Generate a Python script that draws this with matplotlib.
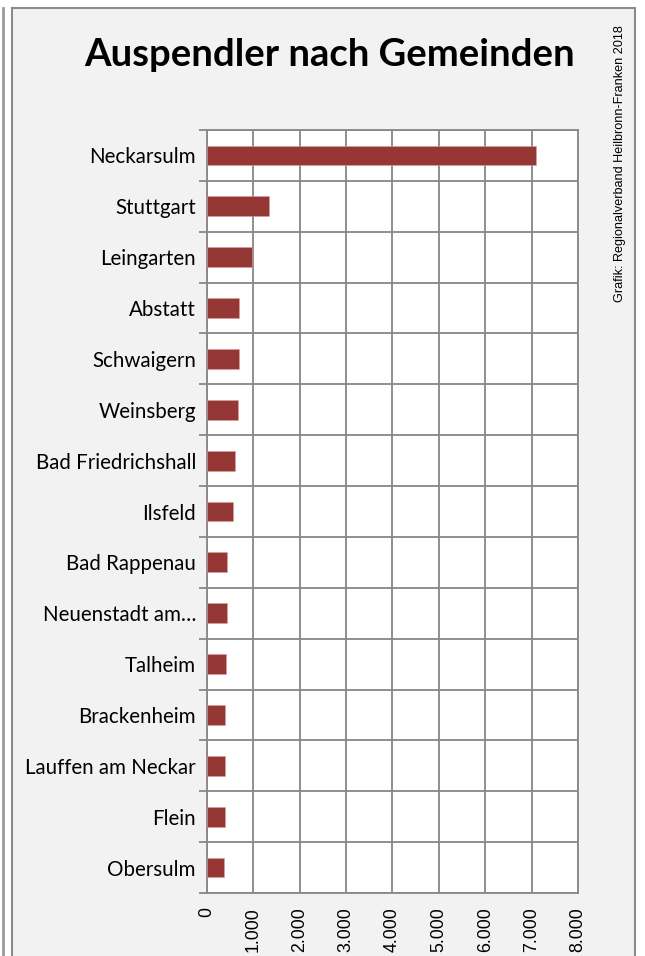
import matplotlib
matplotlib.use("Agg")
import matplotlib.pyplot as plt
from matplotlib.patches import Rectangle
from matplotlib.lines import Line2D
from matplotlib.ticker import FuncFormatter, MultipleLocator

# Daten
gemeinden = ["Neckarsulm", "Stuttgart", "Leingarten", "Abstatt", "Schwaigern",
             "Weinsberg", "Bad Friedrichshall", "Ilsfeld", "Bad Rappenau",
             "Neuenstadt am…", "Talheim", "Brackenheim", "Lauffen am Neckar",
             "Flein", "Obersulm"]
auspendler = [7090, 1340, 980, 700, 690, 670, 610, 550, 440, 430, 420, 390, 380, 380, 360]

titel = "Auspendler nach Gemeinden"
quelle = "Grafik: Regionalverband Heilbronn-Franken 2018"

W, H = 645, 956
fig = plt.figure(figsize=(W / 100, H / 100), dpi=100)
fig.patch.set_facecolor("white")

def px(x, y):
    return x / W, 1 - y / H

# Diagrammbereich mit Rahmen
x0, y0 = px(12, 8)
x1, _ = px(635, 8)
fig.patches.append(Rectangle((x0, -0.01), x1 - x0, y0 + 0.01, transform=fig.transFigure,
                             facecolor="#f2f2f2", edgecolor="#8c8c8c", linewidth=1.5, zorder=-10))
fig.lines.append(Line2D([3 / W, 3 / W], [0, 1 - 8 / H], transform=fig.transFigure,
                        color="#9a9a9a", linewidth=2, zorder=-10))

left, bottom = px(207, 893)
ax = fig.add_axes([left, bottom, 371 / W, 763 / H])
ax.set_facecolor("white")

pos = list(range(len(gemeinden)))
ax.barh(pos, auspendler, height=0.39, color="#953735", edgecolor="#d9a0a0",
        linewidth=0.4, zorder=3)

ax.set_xlim(0, 8000)
ax.set_ylim(len(gemeinden) - 0.5, -0.5)
ax.xaxis.set_major_locator(MultipleLocator(1000))
ax.xaxis.set_major_formatter(FuncFormatter(lambda v, p: f"{int(v):,}".replace(",", ".")))

ax.set_yticks(pos)
ax.set_yticklabels(gemeinden, fontsize=14.8, family="Lato")
ax.set_yticks([p - 0.5 for p in pos] + [len(pos) - 0.5], minor=True)

grid_col = "#878787"
ax.grid(axis="x", which="major", color=grid_col, linewidth=1.3, zorder=1)
ax.grid(axis="y", which="minor", color=grid_col, linewidth=1.3, zorder=1)
ax.tick_params(axis="y", which="major", length=0, pad=8)
ax.tick_params(axis="y", which="minor", length=6, width=1.3, color=grid_col)
ax.tick_params(axis="x", length=0, pad=10)
for lab in ax.get_xticklabels():
    lab.set_rotation(90)
    lab.set_family("Liberation Sans")
    lab.set_fontsize(12.8)
    lab.set_va("top")
for s in ax.spines.values():
    s.set_color(grid_col)
    s.set_linewidth(1.3)

tx, ty = px(330, 55)
fig.text(tx, ty, titel, ha="center", va="center", fontsize=27.5,
         fontweight="bold", family="Lato")

qx, qy = px(620, 25)
fig.text(qx, qy, quelle, rotation=90, ha="center", va="top", fontsize=9.1,
         family=["Liberation Sans Narrow", "Liberation Sans"])

fig.savefig("out.png", dpi=100)
